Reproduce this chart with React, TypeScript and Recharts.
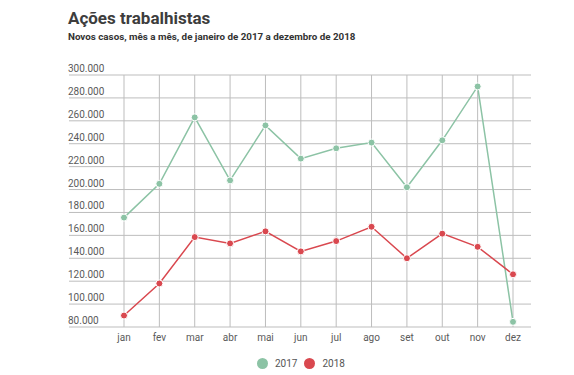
import { LineChart, Line, XAxis, YAxis, CartesianGrid } from "recharts";

const months = ["jan", "fev", "mar", "abr", "mai", "jun", "jul", "ago", "set", "out", "nov", "dez"];
const cases2017 = [175500, 205000, 263000, 208000, 256000, 227000, 236000, 241000, 202000, 243000, 290000, 84500];
const cases2018 = [90000, 118000, 158500, 153000, 163500, 146000, 155000, 167500, 140000, 161500, 150000, 126000];
const yTicks = [80000, 100000, 120000, 140000, 160000, 180000, 200000, 220000, 240000, 260000, 280000, 300000];

const GREEN = "#8cc3a5";
const RED = "#d9484f";
const FONT = "Roboto, 'Noto Sans', sans-serif";
const PLOT_LEFT = 68;
const PAD_LEFT = 55;
const PAD_RIGHT = 18;

const data = months.map((m, i) => ({ month: m, y2017: cases2017[i], y2018: cases2018[i] }));

const fmt = (v: number) => String(v).replace(/\B(?=(\d{3})+(?!\d))/g, ".");

const renderYTick = (props: any) => (
  <text
    key={props.payload.value}
    x={PLOT_LEFT}
    y={props.y - 3}
    textAnchor="start"
    fontSize={10}
    fill="#5a5a5a"
    fontFamily={FONT}
  >
    {fmt(props.payload.value)}
  </text>
);

// vertical grid only at the month ticks, no border lines at the plot edges
const monthLines = ({ offset }: any) => {
  const step = (offset.width - PAD_LEFT - PAD_RIGHT) / (months.length - 1);
  return months.map((_, i) => offset.left + PAD_LEFT + i * step);
};

export default function App() {
  return (
    <div style={{ position: "absolute", left: 0, top: 0, width: 574, height: 375, background: "#fff", fontFamily: FONT }}>
      <div style={{ position: "absolute", left: 68, top: 8, fontSize: 17, fontWeight: 700, color: "#3d3d3d" }}>
        Ações trabalhistas
      </div>
      <div style={{ position: "absolute", left: 68, top: 31, fontSize: 9.8, fontWeight: 700, color: "#333" }}>
        Novos casos, mês a mês, de janeiro de 2017 a dezembro de 2018
      </div>
      <LineChart width={574} height={375} data={data} margin={{ top: 75, right: 43, bottom: 18, left: PLOT_LEFT }}>
        <CartesianGrid stroke="#bdbdbd" strokeWidth={1} verticalCoordinatesGenerator={monthLines} />
        <XAxis
          dataKey="month"
          padding={{ left: PAD_LEFT, right: PAD_RIGHT }}
          axisLine={false}
          tickLine={false}
          height={30}
          interval={0}
          tick={{ fill: "#5a5a5a", fontSize: 10, fontFamily: FONT }}
          tickMargin={1}
        />
        <YAxis
          width={1}
          domain={[80000, 300000]}
          ticks={yTicks}
          interval={0}
          axisLine={false}
          tickLine={false}
          tick={renderYTick}
        />
        <Line
          dataKey="y2017"
          stroke={GREEN}
          strokeWidth={1.5}
          dot={{ r: 3.5, fill: GREEN, stroke: "#fff", strokeWidth: 1 }}
          isAnimationActive={false}
        />
        <Line
          dataKey="y2018"
          stroke={RED}
          strokeWidth={1.5}
          dot={{ r: 3.5, fill: RED, stroke: "#fff", strokeWidth: 1 }}
          isAnimationActive={false}
        />
      </LineChart>
      <div
        style={{
          position: "absolute",
          left: 257,
          top: 358,
          display: "flex",
          gap: 7,
          fontSize: 10,
          color: "#555",
        }}
      >
        {[
          { name: "2017", color: GREEN },
          { name: "2018", color: RED },
        ].map((s) => (
          <div key={s.name} style={{ display: "flex", alignItems: "center", gap: 7 }}>
            <span style={{ width: 11, height: 11, borderRadius: "50%", background: s.color, display: "inline-block" }} />
            <span>{s.name}</span>
          </div>
        ))}
      </div>
    </div>
  );
}
